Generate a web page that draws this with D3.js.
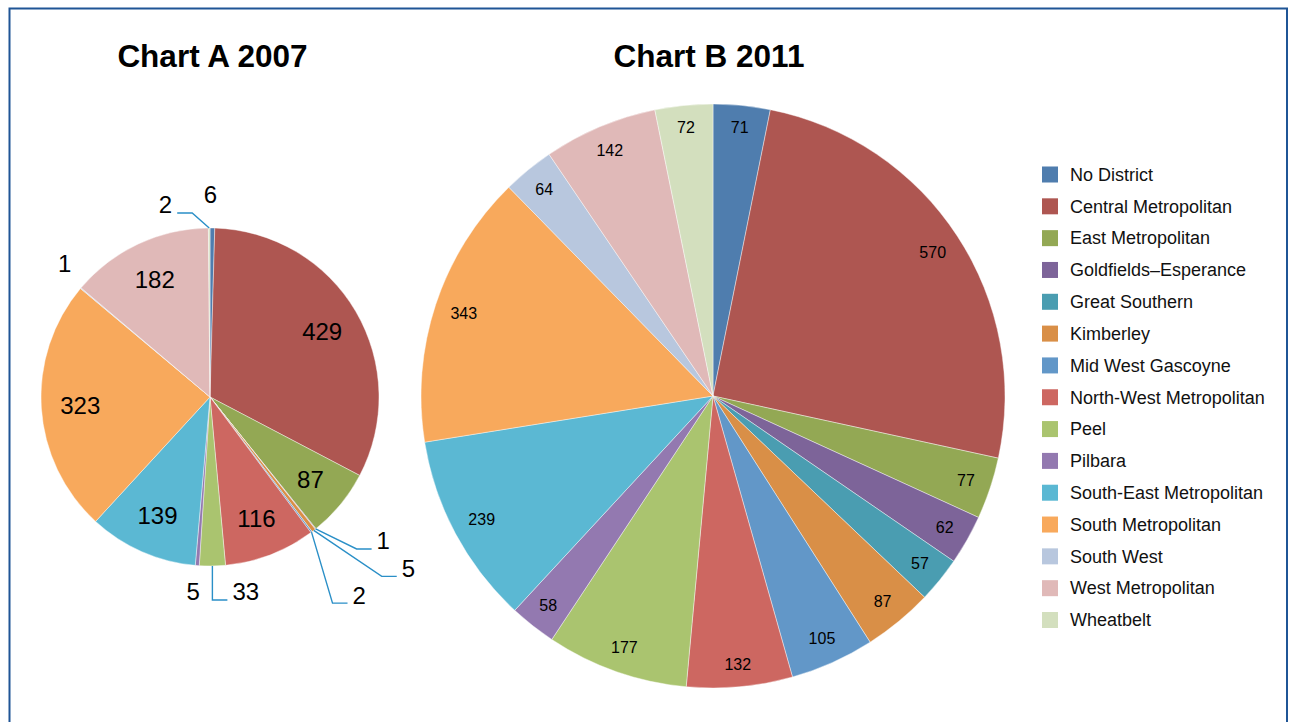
<!DOCTYPE html>
<html>
<head>
<meta charset="utf-8">
<script src="https://cdn.jsdelivr.net/npm/d3@7"></script>
<style>
  html, body { margin: 0; padding: 0; background: #fff; }
  svg { display: block; font-family: "Liberation Sans", Arial, sans-serif; }
</style>
</head>
<body>
<svg id="chart" width="1289" height="722"></svg>
<script>
// ---- data ----
const categories = [
  "No District", "Central Metropolitan", "East Metropolitan", "Goldfields–Esperance",
  "Great Southern", "Kimberley", "Mid West Gascoyne", "North-West Metropolitan",
  "Peel", "Pilbara", "South-East Metropolitan", "South Metropolitan",
  "South West", "West Metropolitan", "Wheatbelt"
];
const values2007 = [6, 429, 87, 1, 0, 5, 2, 116, 33, 5, 139, 323, 1, 182, 2];
const values2011 = [71, 570, 77, 62, 57, 87, 105, 132, 177, 58, 239, 343, 64, 142, 72];
const colors = [
  "#4f7dae", "#ae5651", "#93a854", "#7d6499", "#4a9db1", "#d98f47", "#6297c8",
  "#cd6761", "#aac46f", "#9379b0", "#5bb8d3", "#f8a95c", "#b8c7de", "#e0b9b8", "#d3dfbe"
];
const titles = ["Chart A 2007", "Chart B 2011"];

// ---- layout (not data) ----
const svg = d3.select("#chart");

svg.append("rect")
  .attr("x", 9.5).attr("y", 8.5).attr("width", 1277.5).attr("height", 760)
  .attr("fill", "none").attr("stroke", "#1f5596").attr("stroke-width", 2);

const color = d3.scaleOrdinal().domain(categories).range(colors);
const pie = d3.pie().sort(null).value(d => d.v);

function rows(vals) { return categories.map((c, i) => ({ c, v: vals[i] })); }

// ---- Chart A ----
const A = { cx: 210, cy: 397, r: 169 };
const gA = svg.append("g").attr("transform", `translate(${A.cx},${A.cy})`);
const arcA = d3.arc().innerRadius(0).outerRadius(A.r);
const piesA = pie(rows(values2007));

gA.selectAll("path").data(piesA).join("path")
  .attr("d", arcA)
  .attr("fill", d => color(d.data.c))
  .attr("stroke", "#fff").attr("stroke-width", 0.6).attr("stroke-opacity", 0.7);

// outside label placement for small slices (offsets from arc edge point)
const outsideA = {
  "No District":          { dx: -2,  dy: -33 },
  "South West":           { dx: -16, dy: -25 },
  "Pilbara":              { dx: -4,  dy: 26 },
  "Wheatbelt":            { elbow: [-17, -15], dir: -1 },
  "Goldfields–Esperance": { elbow: [41, 20],  dir: 1 },
  "Kimberley":            { elbow: [68, 46],  dir: 1 },
  "Mid West Gascoyne":    { elbow: [21, 71],  dir: 1 },
  "Peel":                 { elbow: [0, 34],   dir: 1 }
};
function edgePoint(d, r) {
  const a = (d.startAngle + d.endAngle) / 2;
  return [r * Math.sin(a), -r * Math.cos(a)];
}
const lblA = d3.arc().innerRadius(130).outerRadius(130);
piesA.filter(d => d.data.v > 0).forEach(d => {
  const o = outsideA[d.data.c];
  if (!o) {
    const [x, y] = lblA.centroid(d);
    gA.append("text").attr("x", x).attr("y", y).attr("dy", "0.35em")
      .attr("text-anchor", "middle").attr("font-size", 24).attr("fill", "#000")
      .text(d.data.v);
    return;
  }
  const [px, py] = edgePoint(d, A.r);
  if (!o.elbow) {
    gA.append("text").attr("x", px + o.dx).attr("y", py + o.dy).attr("dy", "0.35em")
      .attr("text-anchor", "middle").attr("font-size", 24).attr("fill", "#000")
      .text(d.data.v);
    return;
  }
  const ex = px + o.elbow[0], ey = py + o.elbow[1];
  const fx = ex + 15 * o.dir;
  gA.append("polyline")
    .attr("points", [[px, py], [ex, ey], [fx, ey]].map(p => p.join(",")).join(" "))
    .attr("fill", "none").attr("stroke", "#2a8fc7").attr("stroke-width", 1.4);
  gA.append("text").attr("x", fx + 5 * o.dir).attr("y", ey - 8).attr("dy", "0.35em")
    .attr("text-anchor", o.dir > 0 ? "start" : "end")
    .attr("font-size", 24).attr("fill", "#000").text(d.data.v);
});

svg.append("text").attr("x", 212.5).attr("y", 67).attr("text-anchor", "middle")
  .attr("font-size", 31.5).attr("font-weight", "bold").attr("fill", "#000").text(titles[0]);

// ---- Chart B ----
const B = { cx: 713, cy: 396, r: 292 };
const gB = svg.append("g").attr("transform", `translate(${B.cx},${B.cy})`);
const arcB = d3.arc().innerRadius(0).outerRadius(B.r);
const piesB = pie(rows(values2011));

gB.selectAll("path").data(piesB).join("path")
  .attr("d", arcB)
  .attr("fill", d => color(d.data.c))
  .attr("stroke", "#fff").attr("stroke-width", 0.6).attr("stroke-opacity", 0.7);

piesB.forEach(d => {
  const t = gB.append("text").attr("text-anchor", "middle").attr("dy", "0.35em")
    .attr("font-size", 16).attr("fill", "#000").text(d.data.v);
  const w = t.node().getComputedTextLength(), h = 12;
  const a = (d.startAngle + d.endAngle) / 2;
  const ext = Math.abs(w / 2 * Math.sin(a)) + Math.abs(h / 2 * Math.cos(a));
  const rr = B.r - 15 - ext;
  t.attr("x", rr * Math.sin(a)).attr("y", -rr * Math.cos(a));
});

svg.append("text").attr("x", 709).attr("y", 67).attr("text-anchor", "middle")
  .attr("font-size", 31.5).attr("font-weight", "bold").attr("fill", "#000").text(titles[1]);

// ---- Legend ----
const legend = svg.append("g").attr("transform", "translate(1042,174.5)");
const ly = d3.scalePoint().domain(categories).range([0, 445.5]);
const li = legend.selectAll("g").data(categories).join("g")
  .attr("transform", d => `translate(0,${ly(d)})`);
li.append("rect").attr("x", 0).attr("y", -8).attr("width", 16).attr("height", 16)
  .attr("fill", d => color(d));
li.append("text").attr("x", 28).attr("y", 0).attr("dy", "0.35em")
  .attr("font-size", 18).attr("fill", "#111").text(d => d);
</script>
</body>
</html>
